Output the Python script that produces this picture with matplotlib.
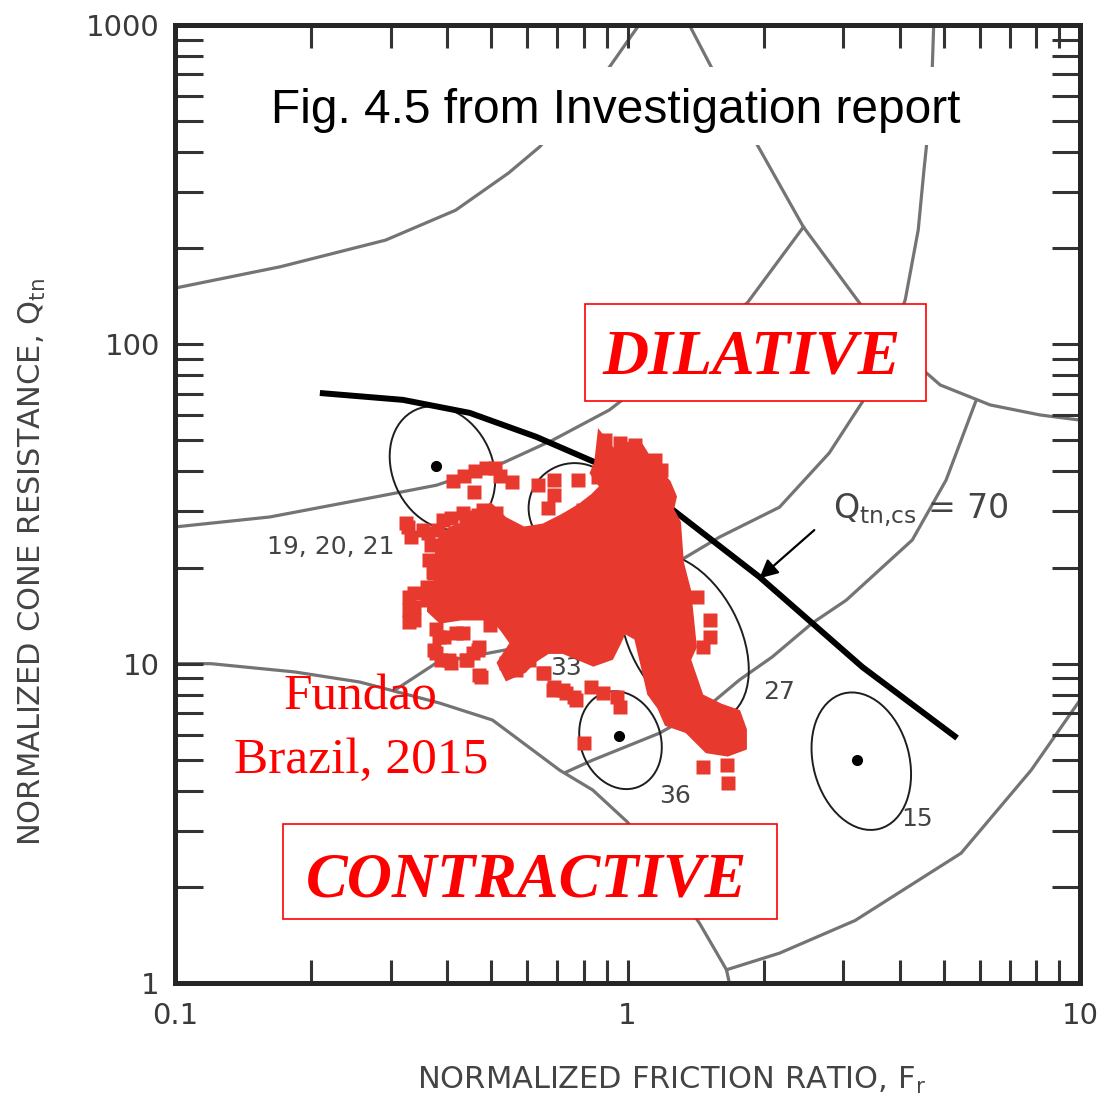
import matplotlib.pyplot as plt
import numpy as np
from matplotlib.patches import Ellipse, Rectangle
from matplotlib.transforms import ScaledTranslation
from matplotlib.ticker import FixedLocator, FixedFormatter, LogLocator, NullFormatter

# soil behaviour type boundaries: normalized friction ratio Fr (%) vs Qtn
b67_fr = [0.10, 0.171, 0.292, 0.417, 0.546, 0.639, 0.912, 1.06]
b67_qtn = [150, 175, 212, 263, 344, 415, 738, 1000]

b56_fr = [0.10, 0.162, 0.269, 0.378, 0.530, 0.683, 0.912, 1.841, 2.448]
b56_qtn = [26.8, 28.8, 33.0, 36.2, 42.5, 50.1, 62.3, 135, 233]

b89_fr = [1.370, 1.532, 1.936, 2.448, 3.253, 4.005, 4.91, 6.33, 8.16, 10.0]
b89_qtn = [1000, 738, 421, 233, 135, 96.0, 74.6, 64.6, 60.1, 57.9]

b45_fr = [0.306, 0.378, 0.586, 0.867, 1.349, 1.596, 2.167, 2.792, 3.304, 3.77,
          4.11, 4.39, 4.52, 4.69, 4.75]
b45_qtn = [8.26, 10.05, 11.3, 15.3, 21.6, 24.9, 30.9, 45.7, 66, 96.0,
           138, 228, 351, 582, 1000]

b34_fr = [0.733, 0.838, 1.177, 1.517, 1.767, 2.089, 2.561, 3.043, 4.26, 5.06, 5.90]
b34_qtn = [4.58, 4.99, 6.06, 7.42, 8.89, 10.5, 13.4, 15.8, 24.4, 37.6, 67.0]

b1_fr = [0.10, 0.120, 0.184, 0.256, 0.384, 0.503, 0.708, 0.838, 1.0, 1.195, 1.442, 1.655, 1.679]
b1_qtn = [10.0, 10.0, 9.42, 8.76, 7.53, 6.66, 4.64, 4.02, 3.19, 2.26, 1.54, 1.10, 1.0]

b2_fr = [1.655, 2.167, 3.186, 5.46, 7.80, 10.0]
b2_qtn = [1.10, 1.24, 1.57, 2.55, 4.64, 7.69]

# Qtn,cs = 70 contractive/dilative boundary
cs70_fr = [0.209, 0.319, 0.448, 0.629, 0.855, 1.238, 1.956, 3.304, 5.35]
cs70_qtn = [70.4, 67, 61, 51.3, 42.5, 30.9, 18.7, 9.76, 5.85]

# case histories
case_labels = ['19, 20, 21', '33', '27', '36', '15']
case_fr = [0.390, 0.764, 1.336, 0.965, 3.286]
case_qtn = [41.0, 30.7, 12.1, 5.76, 4.95]
case_label_fr = [0.221, 0.730, 2.165, 1.276, 4.37]
case_label_qtn = [23.2, 9.69, 8.15, 3.85, 3.26]
dot_fr = [0.378, 0.752, 0.960, 3.219]
dot_qtn = [41.5, 28.8, 5.93, 4.99]

# Fundao CPT data: dense core outline plus scattered points
core_fr = [0.872, 0.927, 0.990, 1.068, 1.124, 1.226, 1.263, 1.244, 1.290, 1.309,
           1.357, 1.377, 1.398, 1.357, 1.449, 1.604, 1.749, 1.804, 1.804, 1.663,
           1.502, 1.357, 1.226, 1.183, 1.124, 1.085, 1.052, 0.980, 0.950, 0.917,
           0.841, 0.722, 0.666, 0.620, 0.589, 0.543, 0.524, 0.560, 0.533, 0.506,
           0.428, 0.387, 0.367, 0.367, 0.387, 0.381, 0.387, 0.407, 0.450, 0.498,
           0.533, 0.589, 0.653, 0.722, 0.788, 0.841, 0.885, 0.841, 0.859]
core_qtn = [51.3, 46.0, 48.4, 47.7, 42.5, 36.8, 33.3, 30.3, 27.6, 20.7,
            17.0, 14.0, 11.3, 10.3, 7.86, 7.32, 7.01, 6.20, 5.48, 5.25,
            5.37, 6.20, 6.52, 7.32, 8.09, 10.05, 12.1, 12.8, 11.6, 10.5,
            10.05, 11.0, 11.0, 10.3, 9.56, 9.09, 10.05, 11.6, 12.8, 14.0,
            14.0, 13.7, 14.7, 17.0, 18.7, 21.6, 24.4, 26.2, 27.6, 31.0,
            28.2, 26.2, 26.8, 28.8, 31.0, 33.3, 35.8, 39.6, 42.5]

pts_fr = [0.411, 0.435, 0.460, 0.486, 0.509, 0.524, 0.457, 0.557, 0.633, 0.687,
          0.776, 0.859, 0.687, 0.666, 0.722, 0.467, 0.439, 0.407, 0.327, 0.362,
          0.332, 0.381, 0.373, 0.337, 0.337, 0.337, 0.393, 0.373, 0.387, 0.407,
          0.432, 0.467, 0.443, 0.474, 0.498, 0.653, 0.687, 0.722, 0.760, 0.829,
          0.885, 0.950, 0.965, 0.800, 1.472, 1.663, 1.671, 1.427, 1.525, 1.525,
          1.472, 1.309, 0.894, 1.041, 1.183,
          0.324, 0.353, 0.391, 0.432, 0.479, 0.511, 0.367, 0.364, 0.371, 0.360,
          0.360, 0.377, 0.329, 0.329, 0.329, 0.383, 0.417, 0.377, 0.403, 0.455,
          0.469, 0.439, 0.469, 0.538, 0.566, 0.605, 0.649, 0.683, 0.730, 0.768,
          0.504, 0.741, 0.796, 0.965, 1.153, 1.377, 1.731]
pts_qtn = [37.3, 38.7, 40.1, 41.0, 41.0, 38.7, 34.5, 37.1, 36.3, 37.6,
           37.6, 38.4, 33.8, 30.7, 26.2, 29.2, 28.8, 28.6, 26.8, 25.7,
           24.9, 26.2, 19.2, 16.6, 15.1, 13.7, 12.1, 11.0, 10.3, 10.05,
           12.5, 11.0, 10.3, 9.09, 13.2, 9.35, 8.45, 8.27, 7.86, 8.45,
           8.09, 7.86, 7.32, 5.64, 4.75, 4.82, 4.23, 16.2, 13.7, 12.1,
           11.3, 9.09, 50.2, 48.4, 40.4,
           27.6, 26.2, 28.2, 29.6, 30.3, 29.6, 23.5, 21.1, 19.4, 17.4,
           15.8, 12.8, 16.2, 14.7, 13.5, 12.1, 12.5, 10.8, 10.3, 10.8,
           11.3, 10.3, 9.22, 10.05, 9.56, 10.3, 9.35, 8.27, 8.09, 7.70,
           14.0, 28.2, 30.3, 49.1, 43.4, 7.70, 5.77]

# ellipse outlines of case histories, in inches: width, height, tilt
ellipse_shape = [(1.00, 1.28, 25), (0.92, 0.90, 0), (1.80, 1.10, -62),
                 (0.80, 1.00, 20), (0.96, 1.40, 15)]

RED = '#e8392f'
GRAY = '#747474'

fig = plt.figure(figsize=(11.03, 10.99), dpi=100)
ax = fig.add_axes([175 / 1103, 116 / 1099, 905 / 1103, 958 / 1099])
ax.set_xscale('log')
ax.set_yscale('log')
ax.set_xlim(0.1, 10)
ax.set_ylim(1, 1000)

for fr, q in [(b67_fr, b67_qtn), (b56_fr, b56_qtn), (b89_fr, b89_qtn),
              (b45_fr, b45_qtn), (b34_fr, b34_qtn), (b1_fr, b1_qtn),
              (b2_fr, b2_qtn)]:
    ax.plot(fr, q, color=GRAY, lw=2.3, zorder=1, solid_joinstyle='round')

for (w, h, ang), fr, q in zip(ellipse_shape, case_fr, case_qtn):
    tr = fig.dpi_scale_trans + ScaledTranslation(fr, q, ax.transData)
    ax.add_patch(Ellipse((0, 0), w, h, angle=ang, transform=tr,
                         fill=False, ec='#1e1e1e', lw=1.4, zorder=2))
ax.plot(dot_fr, dot_qtn, 'o', color='black', ms=7, zorder=3)

for lab, fr, q in zip(case_labels, case_label_fr, case_label_qtn):
    ax.text(fr, q, lab, fontsize=18, color='#444444', ha='center', va='center',
            zorder=2)

ax.plot(cs70_fr, cs70_qtn, color='black', lw=4.3, zorder=3, solid_capstyle='butt')
ax.annotate('', xy=(1.956, 18.5), xytext=(2.587, 26.2),
            arrowprops=dict(arrowstyle='-|>', color='black', lw=1.6,
                            mutation_scale=28, shrinkA=0, shrinkB=0), zorder=3)
ax.text(2.84, 28.6, r'Q$_\mathregular{tn{,}cs}$ = 70', fontsize=24,
        color='#444444', va='baseline', ha='left', zorder=3)

# data cloud
ax.fill(core_fr, core_qtn, color=RED, ec=RED, lw=5, zorder=4)
ax.plot(pts_fr, pts_qtn, 's', color=RED, ms=9.5, mec='none', zorder=4)

# annotation boxes
ax.add_patch(Rectangle((0.0884, 0.8747), 0.7956, 0.0815, transform=ax.transAxes,
                       facecolor='white', edgecolor='none', zorder=5))
ax.text(0.4873, 0.8977, 'Fig. 4.5 from Investigation report', transform=ax.transAxes,
        ha='center', va='baseline', fontsize=34.5, family='Liberation Sans',
        color='black', zorder=6)

ax.add_patch(Rectangle((0.453, 0.6075), 0.377, 0.1013, transform=ax.transAxes,
                       facecolor='white', edgecolor='red', lw=1.2, zorder=5))
ax.text(0.6376, 0.6367, 'DILATIVE', transform=ax.transAxes, ha='center',
        va='baseline', fontsize=46, family='Liberation Serif', weight='bold',
        style='italic', color='red', zorder=6)

ax.add_patch(Rectangle((0.1193, 0.0668), 0.5459, 0.0992, transform=ax.transAxes,
                       facecolor='white', edgecolor='red', lw=1.2, zorder=5))
ax.text(0.389, 0.0908, 'CONTRACTIVE', transform=ax.transAxes, ha='center',
        va='baseline', fontsize=45, family='Liberation Serif', weight='bold',
        style='italic', color='red', zorder=6)

ax.text(0.2055, 0.285, 'Fundao', transform=ax.transAxes, ha='center',
        va='baseline', fontsize=37, family='Liberation Serif', color='red', zorder=6)
ax.text(0.2055, 0.2192, 'Brazil, 2015', transform=ax.transAxes, ha='center',
        va='baseline', fontsize=37, family='Liberation Serif', color='red', zorder=6)

# axes frame and ticks
for sp in ax.spines.values():
    sp.set_linewidth(3.6)
    sp.set_color('#262626')
    sp.set_zorder(7)

ax.xaxis.set_major_locator(FixedLocator([0.1, 1, 10]))
ax.xaxis.set_major_formatter(FixedFormatter(['0.1', '1', '10']))
ax.xaxis.set_minor_locator(LogLocator(base=10, subs=np.arange(2, 10)))
ax.xaxis.set_minor_formatter(NullFormatter())
ax.yaxis.set_major_locator(FixedLocator([1, 10, 100, 1000]))
ax.yaxis.set_major_formatter(FixedFormatter(['1', '10', '100', '1000']))
ax.yaxis.set_minor_locator(LogLocator(base=10, subs=np.arange(2, 10)))
ax.yaxis.set_minor_formatter(NullFormatter())

ax.tick_params(which='both', direction='in', top=True, right=True,
               width=2.2, color='#333333', labelsize=21, labelcolor='#3a3a3a')
ax.tick_params(axis='x', which='both', length=16.5, pad=14)
ax.tick_params(axis='y', which='both', length=20, pad=11)

fig.text(0.609, 0.0173, r'NORMALIZED FRICTION RATIO, F$_\mathregular{r}$',
         ha='center', va='center', fontsize=22, color='#444444')
fig.text(0.029, 0.4886, r'NORMALIZED CONE RESISTANCE, Q$_\mathregular{tn}$',
         ha='center', va='center', rotation=90, fontsize=22, color='#444444')

fig.savefig('out.png', dpi=100)
